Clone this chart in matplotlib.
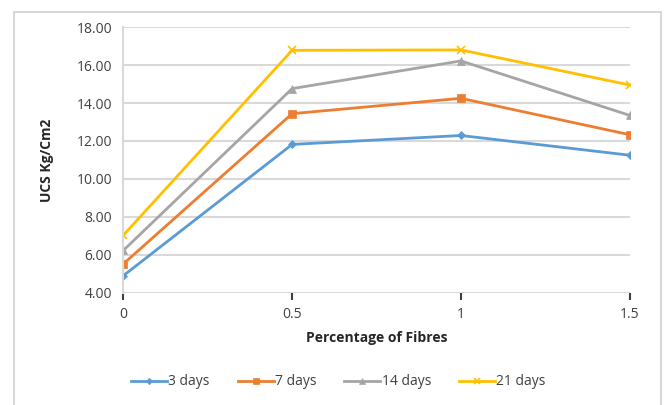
import numpy as np
import matplotlib.pyplot as plt
from matplotlib.patches import Rectangle

# percentage of fibres and UCS values per curing period
fibres = [0, 0.5, 1, 1.5]
days_3 = [4.90, 11.82, 12.29, 11.25]
days_7 = [5.52, 13.44, 14.25, 12.33]
days_14 = [6.23, 14.76, 16.22, 13.35]
days_21 = [7.03, 16.78, 16.80, 14.95]
labels = ["3 days", "7 days", "14 days", "21 days"]
y_ticks = [4, 6, 8, 10, 12, 14, 16, 18]

plt.rcParams['font.family'] = ['Open Sans', 'DejaVu Sans']

fig = plt.figure(figsize=(6.7, 4.05), dpi=100)
ax = fig.add_axes([0.184, 0.277, 0.756, 0.656])

# outer chart border
fig.patches.append(Rectangle((0.021, -0.01), 0.966, 0.98, transform=fig.transFigure,
                             fill=False, edgecolor="#d0d0d0", linewidth=1.2))

styles = [
    ("#5B9BD5", "D", 4),
    ("#ED7D31", "s", 6),
    ("#A5A5A5", "^", 6),
    ("#FFC000", "x", 6),
]
series = [days_3, days_7, days_14, days_21]
for vals, lab, (c, m, ms) in zip(series, labels, styles):
    ax.plot(fibres, vals, color=c, marker=m, markersize=ms, linewidth=2,
            markeredgewidth=1.2 if m == "x" else 0.5, label=lab)

ax.set_xlim(0, 1.5)
ax.set_ylim(4, 18)
ax.set_xticks(fibres)
ax.set_xticklabels(["0", "0.5", "1", "1.5"])
ax.set_yticks(y_ticks)
ax.set_yticklabels(["%.2f" % v for v in y_ticks])
ax.grid(axis="y", color="#d9d9d9", linewidth=1.5)
ax.set_axisbelow(True)
for s in ["top", "right", "bottom"]:
    ax.spines[s].set_visible(False)
ax.spines["left"].set_color("#d9d9d9")
ax.spines["left"].set_linewidth(1.5)
ax.tick_params(axis="y", length=0, labelsize=10, colors="#404040", pad=8)
ax.tick_params(axis="x", length=5, width=1.5, labelsize=10, colors="#404040", pad=5)
for t in ax.get_xticklines():
    t.set_color("#d9d9d9")

ax.set_xlabel("Percentage of Fibres", fontsize=10, fontweight="bold", color="#262626", labelpad=7)
ax.set_ylabel("UCS Kg/Cm2", fontsize=10, fontweight="bold", color="#262626", labelpad=16)

leg = fig.legend(loc="center", bbox_to_anchor=(0.505, 0.057), ncol=4, frameon=False,
                 fontsize=10, handlelength=2.6, columnspacing=2.0, handletextpad=0.1,
                 labelcolor="#404040", markerscale=0.8)

fig.savefig("out.png", dpi=100)
